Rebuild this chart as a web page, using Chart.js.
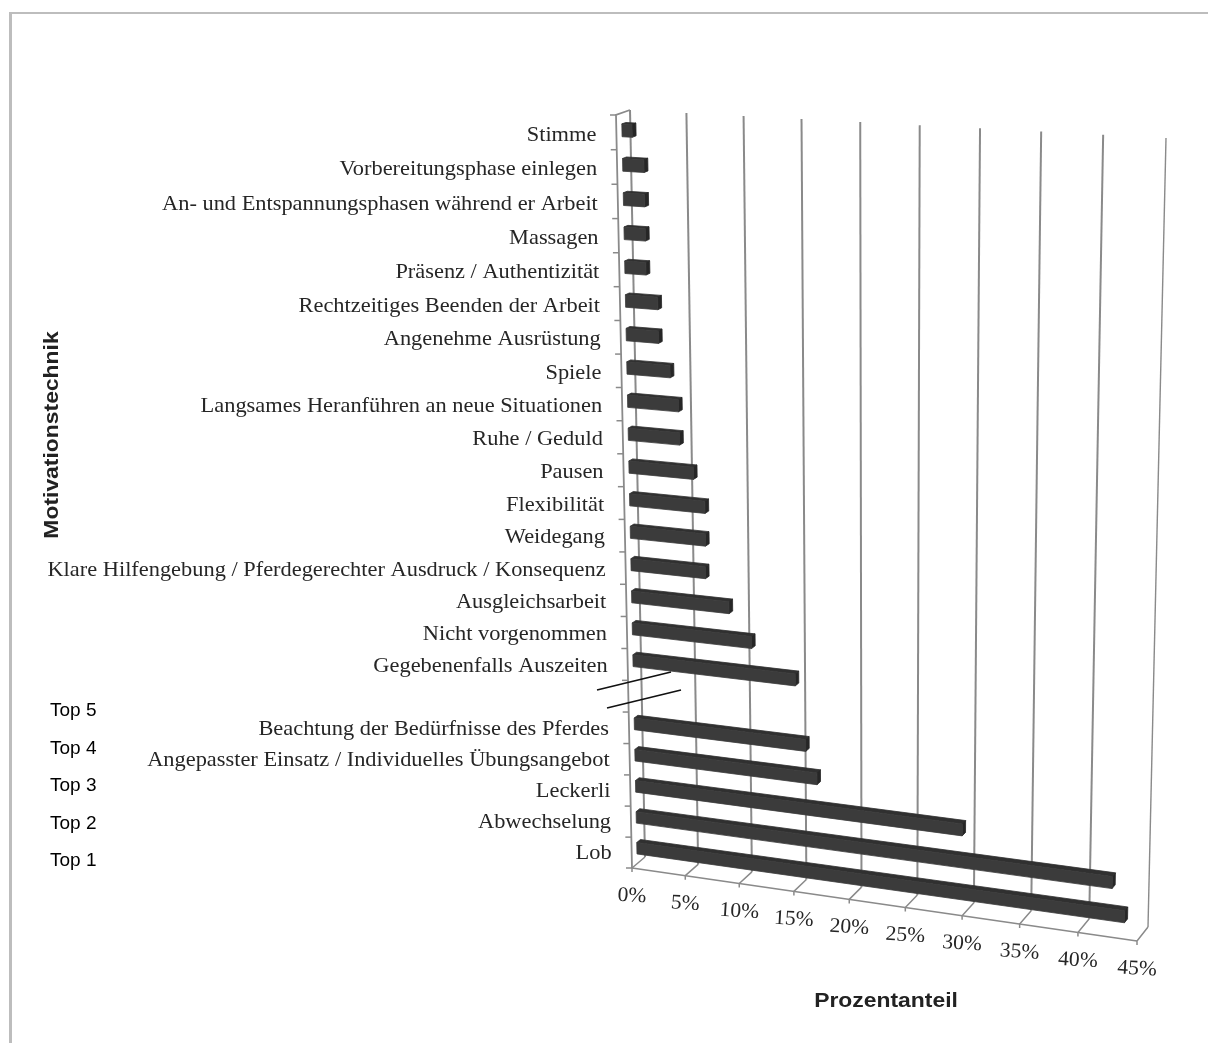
<!DOCTYPE html>
<html>
<head>
<meta charset="utf-8">
<title>Motivationstechnik</title>
<script src="https://cdn.jsdelivr.net/npm/chart.js@4"></script>
<style>
  html, body { margin: 0; padding: 0; background: #fff; }
  canvas { display: block; }
</style>
</head>
<body>
<canvas id="chart" width="1208" height="1043"></canvas>
<script>
// Categories from top to bottom; the empty slot is the axis break.
const categories = [
  "Stimme", "Vorbereitungsphase einlegen", "An- und Entspannungsphasen während er Arbeit",
  "Massagen", "Präsenz / Authentizität", "Rechtzeitiges Beenden der Arbeit",
  "Angenehme Ausrüstung", "Spiele", "Langsames Heranführen an neue Situationen",
  "Ruhe / Geduld", "Pausen", "Flexibilität", "Weidegang",
  "Klare Hilfengebung / Pferdegerechter Ausdruck / Konsequenz", "Ausgleichsarbeit",
  "Nicht vorgenommen", "Gegebenenfalls Auszeiten", "",
  "Beachtung der Bedürfnisse des Pferdes", "Angepasster Einsatz / Individuelles Übungsangebot",
  "Leckerli", "Abwechselung", "Lob"
];
const shares = [0.9, 1.9, 1.9, 1.9, 1.9, 2.9, 2.9, 3.9, 4.6, 4.65, 5.85, 6.85, 6.85, 6.8, 8.9, 10.9, 14.8, null, 15.7, 16.7, 29.55, 42.45, 43.55];
const rankLabels = ["Top 5", "Top 4", "Top 3", "Top 2", "Top 1"];
const xTitle = "Prozentanteil";
const yTitle = "Motivationstechnik";

// Corners of the 3D box on the page: top-left, top-right, bottom-right, bottom-left.
const frontPlane = [[616, 115], [1154, 145], [1137, 941], [632, 868]];
const backPlane  = [[630, 110], [1166, 138], [1148, 927], [645, 857]];
const BAR_FRONT = 0.4, BAR_BACK = 0.68;

function squareToQuad(q) {
  const [[x0, y0], [x1, y1], [x2, y2], [x3, y3]] = q;
  const dx1 = x1 - x2, dx2 = x3 - x2, sx = x0 - x1 + x2 - x3;
  const dy1 = y1 - y2, dy2 = y3 - y2, sy = y0 - y1 + y2 - y3;
  const den = dx1 * dy2 - dx2 * dy1;
  const g = (sx * dy2 - dx2 * sy) / den, h = (dx1 * sy - sx * dy1) / den;
  const a = x1 - x0 + g * x1, b = x3 - x0 + h * x3;
  const d = y1 - y0 + g * y1, e = y3 - y0 + h * y3;
  return (u, v) => {
    const w = g * u + h * v + 1;
    return [(a * u + b * v + x0) / w, (d * u + e * v + y0) / w];
  };
}
const mapFront = squareToQuad(frontPlane);
const mapBack = squareToQuad(backPlane);

// Projects a pixel of the flat chart area to the page, at a depth between 0 (front) and 1 (back).
let project = null;
function setProjection(area) {
  project = (px, py, depth) => {
    const u = (px - area.left) / (area.right - area.left);
    const v = (py - area.top) / (area.bottom - area.top);
    const f = mapFront(u, v), b = mapBack(u, v);
    return [f[0] + (b[0] - f[0]) * depth, f[1] + (b[1] - f[1]) * depth];
  };
}

function fillPoly(ctx, pts, color) {
  ctx.beginPath();
  pts.forEach((p, i) => i ? ctx.lineTo(p[0], p[1]) : ctx.moveTo(p[0], p[1]));
  ctx.closePath();
  ctx.fillStyle = color;
  ctx.strokeStyle = color;
  ctx.lineWidth = 0.8;
  ctx.lineJoin = 'round';
  ctx.fill();
  ctx.stroke();
}

function polyline(ctx, pts, color, width) {
  ctx.beginPath();
  pts.forEach((p, i) => i ? ctx.lineTo(p[0], p[1]) : ctx.moveTo(p[0], p[1]));
  ctx.strokeStyle = color;
  ctx.lineWidth = width;
  ctx.stroke();
}

// Writes text squeezed or widened horizontally around its anchor.
function wideText(ctx, text, x, y, stretch, angle) {
  ctx.save();
  ctx.translate(x, y);
  ctx.rotate(angle || 0);
  ctx.scale(stretch, 1);
  ctx.fillText(text, 0, 0);
  ctx.restore();
}

// Bar element drawn as a box inside the projected chart volume.
class PerspectiveBar extends Chart.BarElement {
  static id = 'perspectiveBar';
  draw(ctx) {
    const { x, y, base, height } = this.getProps(['x', 'y', 'base', 'height']);
    const top = y - height / 2, bottom = y + height / 2;
    const P = project;
    ctx.save();
    fillPoly(ctx, [P(base, top, BAR_BACK), P(x, top, BAR_BACK), P(x, top, BAR_FRONT), P(base, top, BAR_FRONT)], '#303030');
    fillPoly(ctx, [P(x, top, BAR_FRONT), P(x, top, BAR_BACK), P(x, bottom, BAR_BACK), P(x, bottom, BAR_FRONT)], '#262626');
    fillPoly(ctx, [P(base, top, BAR_FRONT), P(x, top, BAR_FRONT), P(x, bottom, BAR_FRONT), P(base, bottom, BAR_FRONT)], '#3b3b3b');
    ctx.restore();
  }
}

class PerspectiveBarController extends Chart.BarController {
  static id = 'perspectiveBar';
  static defaults = { dataElementType: 'perspectiveBar' };
}
Chart.register(PerspectiveBar, PerspectiveBarController);

// Box walls, gridlines and ticks behind the bars.
const boxPlugin = {
  id: 'box',
  beforeDatasetsDraw(chart) {
    const { ctx, chartArea: a, scales: { x } } = chart;
    setProjection(a);
    const P = project;
    const grey = '#8a8a8a';
    ctx.save();
    ctx.lineCap = 'butt';
    x.ticks.forEach(t => {
      const px = x.getPixelForValue(t.value);
      const front = P(px, a.bottom, 0);
      polyline(ctx, [P(px, a.top, 1), P(px, a.bottom, 1)], grey, t.value === 45 ? 1.4 : 2);
      polyline(ctx, [P(px, a.bottom, 1), front, [front[0], front[1] + 4]], grey, 1.5);
    });
    // Front edge of the floor and the left axis with its ticks.
    polyline(ctx, [P(a.left, a.bottom, 0), P(a.right, a.bottom, 0)], grey, 1.5);
    polyline(ctx, [P(a.left, a.top, 1), P(a.left, a.top, 0), P(a.left, a.bottom, 0)], grey, 1.8);
    const slot = (a.bottom - a.top) / categories.length;
    for (let i = 0; i <= categories.length; i++) {
      const p = P(a.left, a.top + i * slot, 0);
      polyline(ctx, [[p[0] - 6, p[1]], p], grey, 1.5);
    }
    ctx.restore();
  },
  afterDatasetsDraw(chart) {
    const { ctx, chartArea: a, scales: { x, y } } = chart;
    const P = project;
    ctx.save();
    ctx.fillStyle = '#262626';
    ctx.textBaseline = 'middle';

    // Category labels, right-aligned against the slanted axis.
    ctx.font = '21px "Liberation Serif"';
    ctx.textAlign = 'right';
    categories.forEach((label, i) => {
      if (!label) return;
      const p = P(a.left, y.getPixelForValue(i), 0);
      wideText(ctx, label, p[0] - 20, p[1] + 3 - 2 * i / categories.length, 1.066);
    });

    // Percent labels under the floor, following its slope a little.
    ctx.textAlign = 'center';
    x.ticks.forEach(t => {
      const p = P(x.getPixelForValue(t.value), a.bottom, 0);
      wideText(ctx, t.label, p[0], p[1] + 28, 1.03, 0.06);
    });

    // Axis titles.
    ctx.font = 'bold 21px "Liberation Sans"';
    ctx.fillStyle = '#222';
    wideText(ctx, xTitle, 886, 1001, 1.09);
    wideText(ctx, yTitle, 52, 435, 1.09, -Math.PI / 2);

    // Ranking labels for the five leading techniques.
    ctx.font = '19px "Liberation Sans"';
    ctx.fillStyle = '#000';
    ctx.textAlign = 'left';
    rankLabels.forEach((label, i) => ctx.fillText(label, 50, 711 + i * 37.5));

    // Double stroke marking the axis break.
    polyline(ctx, [[597, 690], [671, 672]], '#111', 1.8);
    polyline(ctx, [[607, 708], [681, 690]], '#111', 1.8);

    // Frame of the figure.
    ctx.fillStyle = '#bdbdbd';
    ctx.fillRect(9, 12, 3, 1031);
    ctx.fillRect(9, 12, 1199, 2);
    ctx.restore();
  }
};

new Chart(document.getElementById('chart'), {
  type: 'perspectiveBar',
  data: {
    labels: categories,
    datasets: [{ data: shares, barPercentage: 0.37, categoryPercentage: 1, clip: false }]
  },
  options: {
    indexAxis: 'y',
    responsive: false,
    animation: false,
    layout: { padding: { left: 300, right: 100, top: 100, bottom: 100 } },
    plugins: { legend: { display: false }, tooltip: { enabled: false } },
    scales: {
      x: {
        type: 'linear', min: 0, max: 45,
        ticks: { display: false, stepSize: 5, callback: v => v + '%' },
        grid: { display: false }, border: { display: false }
      },
      y: {
        type: 'category',
        ticks: { display: false },
        grid: { display: false }, border: { display: false }
      }
    }
  },
  plugins: [boxPlugin]
});
</script>
</body>
</html>
